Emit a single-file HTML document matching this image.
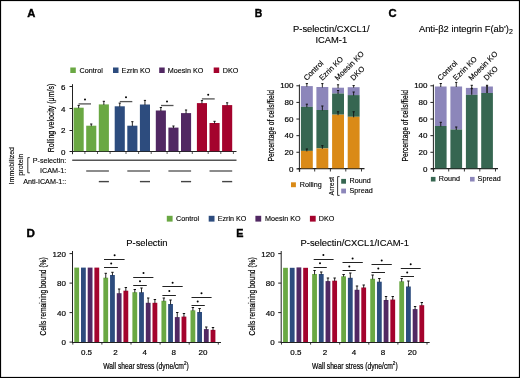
<!DOCTYPE html>
<html><head><meta charset="utf-8"><style>
html,body{margin:0;padding:0;background:#fff;}
body{width:520px;height:378px;overflow:hidden;}
svg{display:block;font-family:"Liberation Sans", sans-serif;will-change:transform;}
text:not([stroke-width]){stroke:#000;stroke-width:0.12px;}
</style></head><body>
<svg width="520" height="378" viewBox="0 0 520 378">
<rect x="0" y="0" width="520" height="378" fill="#fff"/>
<text transform="translate(27.20,16.90) scale(1.08,1)" font-size="10.4" font-weight="bold" stroke="#000" stroke-width="0.35">A</text>
<text transform="translate(254.80,16.90) scale(1.0,1)" font-size="10.4" font-weight="bold" stroke="#000" stroke-width="0.35">B</text>
<text transform="translate(388.40,17.00) scale(1.08,1)" font-size="10.4" font-weight="bold" stroke="#000" stroke-width="0.35">C</text>
<text transform="translate(26.60,237.00) scale(1.12,1)" font-size="10.4" font-weight="bold" stroke="#000" stroke-width="0.35">D</text>
<text transform="translate(236.30,236.90) scale(1.04,1)" font-size="10.4" font-weight="bold" stroke="#000" stroke-width="0.35">E</text>
<rect x="70.30" y="67.50" width="5.50" height="5.50" fill="#6aa843"/>
<text x="79.60" y="72.60" font-size="7.2" fill="#000">Control</text>
<rect x="113.00" y="67.50" width="5.50" height="5.50" fill="#2d4c7e"/>
<text x="121.60" y="72.60" font-size="7.2" fill="#000">Ezrin KO</text>
<rect x="159.20" y="67.50" width="5.50" height="5.50" fill="#512863"/>
<text x="167.80" y="72.60" font-size="7.2" fill="#000">Moesin KO</text>
<rect x="213.70" y="67.50" width="5.50" height="5.50" fill="#a4032d"/>
<text x="222.70" y="72.60" font-size="7.2" fill="#000">DKO</text>
<line x1="72.50" y1="84.20" x2="72.50" y2="154.20" stroke="#222" stroke-width="1"/>
<line x1="69.50" y1="151.50" x2="72.50" y2="151.50" stroke="#222" stroke-width="1"/>
<text x="65.50" y="154.80" font-size="8.0" text-anchor="end" fill="#000" stroke="#000" stroke-width="0.18">0</text>
<line x1="69.50" y1="130.50" x2="72.50" y2="130.50" stroke="#222" stroke-width="1"/>
<text x="65.50" y="133.20" font-size="8.0" text-anchor="end" fill="#000" stroke="#000" stroke-width="0.18">2</text>
<line x1="69.50" y1="108.50" x2="72.50" y2="108.50" stroke="#222" stroke-width="1"/>
<text x="65.50" y="111.60" font-size="8.0" text-anchor="end" fill="#000" stroke="#000" stroke-width="0.18">4</text>
<line x1="69.50" y1="86.50" x2="72.50" y2="86.50" stroke="#222" stroke-width="1"/>
<text x="65.50" y="90.00" font-size="8.0" text-anchor="end" fill="#000" stroke="#000" stroke-width="0.18">6</text>
<line x1="72.00" y1="151.50" x2="236.50" y2="151.50" stroke="#222" stroke-width="1"/>
<text x="0.00" y="0.00" font-size="8.2" text-anchor="middle" textLength="68.40" lengthAdjust="spacingAndGlyphs" transform="translate(54.40,118.00) rotate(-90)" fill="#000" stroke="#000" stroke-width="0.2">Rolling velocity (μm/s)</text>
<rect x="73.60" y="107.70" width="10.10" height="43.50" fill="#6aa843"/>
<line x1="78.65" y1="105.40" x2="78.65" y2="108.20" stroke="#111" stroke-width="0.9"/>
<line x1="77.55" y1="105.40" x2="79.75" y2="105.40" stroke="#111" stroke-width="1"/>
<rect x="86.20" y="125.70" width="10.10" height="25.50" fill="#6aa843"/>
<line x1="91.25" y1="124.00" x2="91.25" y2="126.20" stroke="#111" stroke-width="0.9"/>
<line x1="90.15" y1="124.00" x2="92.35" y2="124.00" stroke="#111" stroke-width="1"/>
<rect x="98.80" y="104.40" width="10.10" height="46.80" fill="#6aa843"/>
<line x1="103.85" y1="101.30" x2="103.85" y2="104.90" stroke="#111" stroke-width="0.9"/>
<line x1="102.75" y1="101.30" x2="104.95" y2="101.30" stroke="#111" stroke-width="1"/>
<rect x="114.70" y="106.30" width="10.10" height="44.90" fill="#2d4c7e"/>
<line x1="119.75" y1="103.10" x2="119.75" y2="106.80" stroke="#111" stroke-width="0.9"/>
<line x1="118.65" y1="103.10" x2="120.85" y2="103.10" stroke="#111" stroke-width="1"/>
<rect x="127.30" y="125.70" width="10.10" height="25.50" fill="#2d4c7e"/>
<line x1="132.35" y1="121.70" x2="132.35" y2="126.20" stroke="#111" stroke-width="0.9"/>
<line x1="131.25" y1="121.70" x2="133.45" y2="121.70" stroke="#111" stroke-width="1"/>
<rect x="139.90" y="104.50" width="10.10" height="46.70" fill="#2d4c7e"/>
<line x1="144.95" y1="100.40" x2="144.95" y2="105.00" stroke="#111" stroke-width="0.9"/>
<line x1="143.85" y1="100.40" x2="146.05" y2="100.40" stroke="#111" stroke-width="1"/>
<rect x="155.80" y="110.50" width="10.10" height="40.70" fill="#512863"/>
<line x1="160.85" y1="107.50" x2="160.85" y2="111.00" stroke="#111" stroke-width="0.9"/>
<line x1="159.75" y1="107.50" x2="161.95" y2="107.50" stroke="#111" stroke-width="1"/>
<rect x="168.40" y="127.60" width="10.10" height="23.60" fill="#512863"/>
<line x1="173.45" y1="126.00" x2="173.45" y2="128.10" stroke="#111" stroke-width="0.9"/>
<line x1="172.35" y1="126.00" x2="174.55" y2="126.00" stroke="#111" stroke-width="1"/>
<rect x="181.00" y="113.10" width="10.10" height="38.10" fill="#512863"/>
<line x1="186.05" y1="110.00" x2="186.05" y2="113.60" stroke="#111" stroke-width="0.9"/>
<line x1="184.95" y1="110.00" x2="187.15" y2="110.00" stroke="#111" stroke-width="1"/>
<rect x="196.90" y="103.10" width="10.10" height="48.10" fill="#a4032d"/>
<line x1="201.95" y1="100.60" x2="201.95" y2="103.60" stroke="#111" stroke-width="0.9"/>
<line x1="200.85" y1="100.60" x2="203.05" y2="100.60" stroke="#111" stroke-width="1"/>
<rect x="209.50" y="123.00" width="10.10" height="28.20" fill="#a4032d"/>
<line x1="214.55" y1="121.30" x2="214.55" y2="123.50" stroke="#111" stroke-width="0.9"/>
<line x1="213.45" y1="121.30" x2="215.65" y2="121.30" stroke="#111" stroke-width="1"/>
<rect x="222.10" y="105.10" width="10.10" height="46.10" fill="#a4032d"/>
<line x1="227.15" y1="102.80" x2="227.15" y2="105.60" stroke="#111" stroke-width="0.9"/>
<line x1="226.05" y1="102.80" x2="228.25" y2="102.80" stroke="#111" stroke-width="1"/>
<line x1="84.90" y1="151.50" x2="84.90" y2="154.00" stroke="#333" stroke-width="0.8"/>
<line x1="97.50" y1="151.50" x2="97.50" y2="154.00" stroke="#333" stroke-width="0.8"/>
<line x1="110.10" y1="151.50" x2="110.10" y2="154.00" stroke="#333" stroke-width="0.8"/>
<line x1="126.00" y1="151.50" x2="126.00" y2="154.00" stroke="#333" stroke-width="0.8"/>
<line x1="138.60" y1="151.50" x2="138.60" y2="154.00" stroke="#333" stroke-width="0.8"/>
<line x1="151.20" y1="151.50" x2="151.20" y2="154.00" stroke="#333" stroke-width="0.8"/>
<line x1="167.10" y1="151.50" x2="167.10" y2="154.00" stroke="#333" stroke-width="0.8"/>
<line x1="179.70" y1="151.50" x2="179.70" y2="154.00" stroke="#333" stroke-width="0.8"/>
<line x1="192.30" y1="151.50" x2="192.30" y2="154.00" stroke="#333" stroke-width="0.8"/>
<line x1="208.20" y1="151.50" x2="208.20" y2="154.00" stroke="#333" stroke-width="0.8"/>
<line x1="220.80" y1="151.50" x2="220.80" y2="154.00" stroke="#333" stroke-width="0.8"/>
<line x1="233.40" y1="151.50" x2="233.40" y2="154.00" stroke="#333" stroke-width="0.8"/>
<line x1="78.60" y1="103.90" x2="91.00" y2="103.90" stroke="#555" stroke-width="1.3"/>
<circle cx="85.00" cy="99.40" r="1.0" fill="#000"/>
<line x1="119.80" y1="101.60" x2="132.30" y2="101.60" stroke="#555" stroke-width="1.3"/>
<circle cx="126.00" cy="97.30" r="1.0" fill="#000"/>
<line x1="161.00" y1="105.50" x2="173.50" y2="105.50" stroke="#555" stroke-width="1.3"/>
<circle cx="167.00" cy="101.50" r="1.0" fill="#000"/>
<line x1="201.90" y1="98.90" x2="214.70" y2="98.90" stroke="#555" stroke-width="1.3"/>
<circle cx="208.20" cy="94.70" r="1.0" fill="#000"/>
<text x="0.00" y="0.00" font-size="7.6" text-anchor="middle" textLength="37.40" lengthAdjust="spacingAndGlyphs" transform="translate(14.00,165.70) rotate(-90)" fill="#000">Immobilized</text>
<text x="0.00" y="0.00" font-size="7.6" text-anchor="middle" textLength="22.10" lengthAdjust="spacingAndGlyphs" transform="translate(22.50,164.70) rotate(-90)" fill="#000">protein</text>
<path d="M29.8,157.6 H27.8 V172.8 H29.8" fill="none" stroke="#222" stroke-width="0.9"/>
<text x="66.30" y="162.80" font-size="7.2" text-anchor="end" fill="#000">P-selectin:</text>
<text x="66.30" y="173.00" font-size="7.2" text-anchor="end" fill="#000">ICAM-1:</text>
<text x="66.30" y="184.10" font-size="7.2" text-anchor="end" fill="#000">Anti-ICAM-1::</text>
<line x1="72.20" y1="160.30" x2="236.50" y2="160.30" stroke="#555" stroke-width="1.4"/>
<line x1="86.20" y1="171.00" x2="108.90" y2="171.00" stroke="#666" stroke-width="1.5"/>
<line x1="98.80" y1="181.60" x2="108.90" y2="181.60" stroke="#444" stroke-width="1.4"/>
<line x1="127.30" y1="171.00" x2="150.00" y2="171.00" stroke="#666" stroke-width="1.5"/>
<line x1="139.90" y1="181.60" x2="150.00" y2="181.60" stroke="#444" stroke-width="1.4"/>
<line x1="168.40" y1="171.00" x2="191.10" y2="171.00" stroke="#666" stroke-width="1.5"/>
<line x1="181.00" y1="181.60" x2="191.10" y2="181.60" stroke="#444" stroke-width="1.4"/>
<line x1="209.50" y1="171.00" x2="232.20" y2="171.00" stroke="#666" stroke-width="1.5"/>
<line x1="222.10" y1="181.60" x2="232.20" y2="181.60" stroke="#444" stroke-width="1.4"/>
<line x1="299.40" y1="84.50" x2="299.40" y2="171.90" stroke="#222" stroke-width="1"/>
<line x1="296.40" y1="168.90" x2="299.40" y2="168.90" stroke="#222" stroke-width="1"/>
<text x="293.50" y="171.50" font-size="8.0" text-anchor="end" fill="#000" stroke="#000" stroke-width="0.18">0</text>
<line x1="296.40" y1="152.28" x2="299.40" y2="152.28" stroke="#222" stroke-width="1"/>
<text x="293.50" y="154.88" font-size="8.0" text-anchor="end" fill="#000" stroke="#000" stroke-width="0.18">20</text>
<line x1="296.40" y1="135.66" x2="299.40" y2="135.66" stroke="#222" stroke-width="1"/>
<text x="293.50" y="138.26" font-size="8.0" text-anchor="end" fill="#000" stroke="#000" stroke-width="0.18">40</text>
<line x1="296.40" y1="119.04" x2="299.40" y2="119.04" stroke="#222" stroke-width="1"/>
<text x="293.50" y="121.64" font-size="8.0" text-anchor="end" fill="#000" stroke="#000" stroke-width="0.18">60</text>
<line x1="296.40" y1="102.42" x2="299.40" y2="102.42" stroke="#222" stroke-width="1"/>
<text x="293.50" y="105.02" font-size="8.0" text-anchor="end" fill="#000" stroke="#000" stroke-width="0.18">80</text>
<line x1="296.40" y1="85.80" x2="299.40" y2="85.80" stroke="#222" stroke-width="1"/>
<text x="293.50" y="88.40" font-size="8.0" text-anchor="end" fill="#000" stroke="#000" stroke-width="0.18">100</text>
<line x1="297.50" y1="168.60" x2="364.50" y2="168.60" stroke="#222" stroke-width="1.1"/>
<line x1="299.70" y1="168.60" x2="299.70" y2="171.50" stroke="#222" stroke-width="0.9"/>
<line x1="314.70" y1="168.60" x2="314.70" y2="171.50" stroke="#222" stroke-width="0.9"/>
<line x1="330.40" y1="168.60" x2="330.40" y2="171.50" stroke="#222" stroke-width="0.9"/>
<line x1="345.80" y1="168.60" x2="345.80" y2="171.50" stroke="#222" stroke-width="0.9"/>
<line x1="361.50" y1="168.60" x2="361.50" y2="171.50" stroke="#222" stroke-width="0.9"/>
<text x="0.00" y="0.00" font-size="9.2" text-anchor="middle" textLength="71.40" lengthAdjust="spacingAndGlyphs" transform="translate(273.90,125.80) rotate(-90)" fill="#000" stroke="#000" stroke-width="0.2">Percentage of cells/field</text>
<text x="331.30" y="31.80" font-size="9.4" text-anchor="middle" fill="#000">P-selectin/CXCL1/</text>
<text x="331.30" y="43.40" font-size="9.4" text-anchor="middle" fill="#000">ICAM-1</text>
<rect x="300.90" y="86.10" width="11.90" height="20.70" fill="#8c86ba"/>
<rect x="300.90" y="106.80" width="11.90" height="44.10" fill="#366651"/>
<rect x="300.90" y="150.90" width="11.90" height="17.40" fill="#da8a17"/>
<rect x="316.40" y="87.00" width="11.90" height="23.00" fill="#8c86ba"/>
<rect x="316.40" y="110.00" width="11.90" height="38.40" fill="#366651"/>
<rect x="316.40" y="148.40" width="11.90" height="19.90" fill="#da8a17"/>
<rect x="332.10" y="87.70" width="11.90" height="5.80" fill="#8c86ba"/>
<rect x="332.10" y="93.50" width="11.90" height="21.20" fill="#366651"/>
<rect x="332.10" y="114.70" width="11.90" height="53.60" fill="#da8a17"/>
<rect x="347.70" y="87.20" width="11.90" height="7.90" fill="#8c86ba"/>
<rect x="347.70" y="95.10" width="11.90" height="21.70" fill="#366651"/>
<rect x="347.70" y="116.80" width="11.90" height="51.50" fill="#da8a17"/>
<line x1="306.85" y1="83.60" x2="306.85" y2="86.60" stroke="#111" stroke-width="0.9"/>
<line x1="305.75" y1="83.60" x2="307.95" y2="83.60" stroke="#111" stroke-width="1"/>
<line x1="306.85" y1="104.20" x2="306.85" y2="107.30" stroke="#111" stroke-width="0.9"/>
<line x1="305.75" y1="104.20" x2="307.95" y2="104.20" stroke="#111" stroke-width="1"/>
<line x1="306.85" y1="149.00" x2="306.85" y2="151.40" stroke="#111" stroke-width="0.9"/>
<line x1="305.75" y1="149.00" x2="307.95" y2="149.00" stroke="#111" stroke-width="1"/>
<line x1="322.35" y1="83.60" x2="322.35" y2="87.50" stroke="#111" stroke-width="0.9"/>
<line x1="321.25" y1="83.60" x2="323.45" y2="83.60" stroke="#111" stroke-width="1"/>
<line x1="322.35" y1="106.00" x2="322.35" y2="110.50" stroke="#111" stroke-width="0.9"/>
<line x1="321.25" y1="106.00" x2="323.45" y2="106.00" stroke="#111" stroke-width="1"/>
<line x1="322.35" y1="145.70" x2="322.35" y2="148.90" stroke="#111" stroke-width="0.9"/>
<line x1="321.25" y1="145.70" x2="323.45" y2="145.70" stroke="#111" stroke-width="1"/>
<line x1="338.05" y1="84.80" x2="338.05" y2="88.20" stroke="#111" stroke-width="0.9"/>
<line x1="336.95" y1="84.80" x2="339.15" y2="84.80" stroke="#111" stroke-width="1"/>
<line x1="338.05" y1="90.50" x2="338.05" y2="94.00" stroke="#111" stroke-width="0.9"/>
<line x1="336.95" y1="90.50" x2="339.15" y2="90.50" stroke="#111" stroke-width="1"/>
<line x1="338.05" y1="111.80" x2="338.05" y2="115.20" stroke="#111" stroke-width="0.9"/>
<line x1="336.95" y1="111.80" x2="339.15" y2="111.80" stroke="#111" stroke-width="1"/>
<line x1="353.65" y1="85.60" x2="353.65" y2="87.70" stroke="#111" stroke-width="0.9"/>
<line x1="352.55" y1="85.60" x2="354.75" y2="85.60" stroke="#111" stroke-width="1"/>
<line x1="353.65" y1="92.00" x2="353.65" y2="95.60" stroke="#111" stroke-width="0.9"/>
<line x1="352.55" y1="92.00" x2="354.75" y2="92.00" stroke="#111" stroke-width="1"/>
<line x1="353.65" y1="111.80" x2="353.65" y2="117.30" stroke="#111" stroke-width="0.9"/>
<line x1="352.55" y1="111.80" x2="354.75" y2="111.80" stroke="#111" stroke-width="1"/>
<text x="0.00" y="0.00" font-size="7.6" transform="translate(306.65,81.0) rotate(-45)" fill="#000">Control</text>
<text x="0.00" y="0.00" font-size="7.6" transform="translate(322.15,81.0) rotate(-45)" fill="#000">Ezrin KO</text>
<text x="0.00" y="0.00" font-size="7.6" transform="translate(337.85,81.0) rotate(-45)" fill="#000">Moesin KO</text>
<text x="0.00" y="0.00" font-size="7.6" transform="translate(353.45,81.0) rotate(-45)" fill="#000">DKO</text>
<rect x="291.00" y="182.30" width="4.90" height="4.90" fill="#da8a17"/>
<text x="299.70" y="186.90" font-size="7.2" fill="#000">Rolling</text>
<text x="0.00" y="0.00" font-size="7.6" text-anchor="middle" textLength="18.40" lengthAdjust="spacingAndGlyphs" transform="translate(334.40,186.20) rotate(-90)" fill="#000">Arrest</text>
<path d="M339.6,176.6 H337.6 V195.4 H339.6" fill="none" stroke="#222" stroke-width="0.9"/>
<rect x="341.20" y="178.90" width="4.80" height="4.80" fill="#366651"/>
<text x="349.50" y="183.00" font-size="7.2" fill="#000">Round</text>
<rect x="341.20" y="188.60" width="4.80" height="4.80" fill="#8c86ba"/>
<text x="349.50" y="192.60" font-size="7.2" fill="#000">Spread</text>
<line x1="433.40" y1="84.50" x2="433.40" y2="171.90" stroke="#222" stroke-width="1"/>
<line x1="430.40" y1="168.90" x2="433.40" y2="168.90" stroke="#222" stroke-width="1"/>
<text x="427.50" y="171.50" font-size="8.0" text-anchor="end" fill="#000" stroke="#000" stroke-width="0.18">0</text>
<line x1="430.40" y1="152.28" x2="433.40" y2="152.28" stroke="#222" stroke-width="1"/>
<text x="427.50" y="154.88" font-size="8.0" text-anchor="end" fill="#000" stroke="#000" stroke-width="0.18">20</text>
<line x1="430.40" y1="135.66" x2="433.40" y2="135.66" stroke="#222" stroke-width="1"/>
<text x="427.50" y="138.26" font-size="8.0" text-anchor="end" fill="#000" stroke="#000" stroke-width="0.18">40</text>
<line x1="430.40" y1="119.04" x2="433.40" y2="119.04" stroke="#222" stroke-width="1"/>
<text x="427.50" y="121.64" font-size="8.0" text-anchor="end" fill="#000" stroke="#000" stroke-width="0.18">60</text>
<line x1="430.40" y1="102.42" x2="433.40" y2="102.42" stroke="#222" stroke-width="1"/>
<text x="427.50" y="105.02" font-size="8.0" text-anchor="end" fill="#000" stroke="#000" stroke-width="0.18">80</text>
<line x1="430.40" y1="85.80" x2="433.40" y2="85.80" stroke="#222" stroke-width="1"/>
<text x="427.50" y="88.40" font-size="8.0" text-anchor="end" fill="#000" stroke="#000" stroke-width="0.18">100</text>
<line x1="431.00" y1="168.60" x2="498.00" y2="168.60" stroke="#222" stroke-width="1.1"/>
<line x1="433.70" y1="168.60" x2="433.70" y2="171.50" stroke="#222" stroke-width="0.9"/>
<line x1="448.70" y1="168.60" x2="448.70" y2="171.50" stroke="#222" stroke-width="0.9"/>
<line x1="464.40" y1="168.60" x2="464.40" y2="171.50" stroke="#222" stroke-width="0.9"/>
<line x1="479.80" y1="168.60" x2="479.80" y2="171.50" stroke="#222" stroke-width="0.9"/>
<line x1="495.50" y1="168.60" x2="495.50" y2="171.50" stroke="#222" stroke-width="0.9"/>
<text x="0.00" y="0.00" font-size="9.2" text-anchor="middle" textLength="71.40" lengthAdjust="spacingAndGlyphs" transform="translate(407.90,125.80) rotate(-90)" fill="#000" stroke="#000" stroke-width="0.2">Percentage of cells/field</text>
<text x="418.9" y="31.6" font-size="9.4">Anti-β2 integrin F(ab&#39;)<tspan font-size="7" dy="2.8">2</tspan></text>
<rect x="434.90" y="86.50" width="11.70" height="39.50" fill="#8c86ba"/>
<rect x="434.90" y="126.00" width="11.70" height="42.30" fill="#366651"/>
<rect x="450.40" y="86.50" width="11.70" height="43.00" fill="#8c86ba"/>
<rect x="450.40" y="129.50" width="11.70" height="38.80" fill="#366651"/>
<rect x="465.90" y="87.90" width="11.70" height="6.90" fill="#8c86ba"/>
<rect x="465.90" y="94.80" width="11.70" height="73.50" fill="#366651"/>
<rect x="481.20" y="86.50" width="11.70" height="6.50" fill="#8c86ba"/>
<rect x="481.20" y="93.00" width="11.70" height="75.30" fill="#366651"/>
<line x1="440.75" y1="83.50" x2="440.75" y2="87.00" stroke="#111" stroke-width="0.9"/>
<line x1="439.65" y1="83.50" x2="441.85" y2="83.50" stroke="#111" stroke-width="1"/>
<line x1="440.75" y1="122.30" x2="440.75" y2="126.50" stroke="#111" stroke-width="0.9"/>
<line x1="439.65" y1="122.30" x2="441.85" y2="122.30" stroke="#111" stroke-width="1"/>
<line x1="456.25" y1="82.40" x2="456.25" y2="87.00" stroke="#111" stroke-width="0.9"/>
<line x1="455.15" y1="82.40" x2="457.35" y2="82.40" stroke="#111" stroke-width="1"/>
<line x1="456.25" y1="127.00" x2="456.25" y2="130.00" stroke="#111" stroke-width="0.9"/>
<line x1="455.15" y1="127.00" x2="457.35" y2="127.00" stroke="#111" stroke-width="1"/>
<line x1="471.75" y1="85.30" x2="471.75" y2="88.40" stroke="#111" stroke-width="0.9"/>
<line x1="470.65" y1="85.30" x2="472.85" y2="85.30" stroke="#111" stroke-width="1"/>
<line x1="487.05" y1="85.30" x2="487.05" y2="87.00" stroke="#111" stroke-width="0.9"/>
<line x1="485.95" y1="85.30" x2="488.15" y2="85.30" stroke="#111" stroke-width="1"/>
<line x1="471.75" y1="87.50" x2="471.75" y2="94.80" stroke="#111" stroke-width="1.0"/>
<line x1="470.65" y1="88.70" x2="472.85" y2="88.70" stroke="#111" stroke-width="1.0"/>
<line x1="487.05" y1="85.50" x2="487.05" y2="93.00" stroke="#222" stroke-width="1.6"/>
<text x="0.00" y="0.00" font-size="7.6" transform="translate(440.55,81.0) rotate(-45)" fill="#000">Control</text>
<text x="0.00" y="0.00" font-size="7.6" transform="translate(456.05,81.0) rotate(-45)" fill="#000">Ezrin KO</text>
<text x="0.00" y="0.00" font-size="7.6" transform="translate(471.55,81.0) rotate(-45)" fill="#000">Moesin KO</text>
<text x="0.00" y="0.00" font-size="7.6" transform="translate(486.85,81.0) rotate(-45)" fill="#000">DKO</text>
<rect x="430.90" y="176.90" width="4.60" height="4.60" fill="#366651"/>
<text x="438.80" y="180.90" font-size="7.2" fill="#000">Round</text>
<rect x="470.00" y="176.90" width="4.60" height="4.60" fill="#8c86ba"/>
<text x="477.60" y="180.90" font-size="7.2" fill="#000">Spread</text>
<rect x="166.80" y="215.80" width="5.80" height="5.80" fill="#6aa843"/>
<text x="176.00" y="221.40" font-size="7.2" fill="#000">Control</text>
<rect x="208.70" y="215.80" width="5.80" height="5.80" fill="#2d4c7e"/>
<text x="217.70" y="221.40" font-size="7.2" fill="#000">Ezrin KO</text>
<rect x="255.40" y="215.80" width="5.80" height="5.80" fill="#512863"/>
<text x="265.00" y="221.40" font-size="7.2" fill="#000">Moesin KO</text>
<rect x="309.90" y="215.80" width="5.80" height="5.80" fill="#a4032d"/>
<text x="318.80" y="221.40" font-size="7.2" fill="#000">DKO</text>
<line x1="72.50" y1="251.00" x2="72.50" y2="343.00" stroke="#222" stroke-width="1"/>
<line x1="69.50" y1="342.10" x2="72.50" y2="342.10" stroke="#222" stroke-width="1"/>
<text x="65.90" y="345.00" font-size="8.0" text-anchor="end" fill="#000" stroke="#000" stroke-width="0.18">0</text>
<line x1="69.50" y1="312.60" x2="72.50" y2="312.60" stroke="#222" stroke-width="1"/>
<text x="65.90" y="315.50" font-size="8.0" text-anchor="end" fill="#000" stroke="#000" stroke-width="0.18">40</text>
<line x1="69.50" y1="283.10" x2="72.50" y2="283.10" stroke="#222" stroke-width="1"/>
<text x="65.90" y="286.00" font-size="8.0" text-anchor="end" fill="#000" stroke="#000" stroke-width="0.18">80</text>
<line x1="69.50" y1="253.60" x2="72.50" y2="253.60" stroke="#222" stroke-width="1"/>
<text x="65.90" y="256.50" font-size="8.0" text-anchor="end" fill="#000" stroke="#000" stroke-width="0.18">120</text>
<line x1="72.00" y1="342.50" x2="221.00" y2="342.50" stroke="#222" stroke-width="1"/>
<line x1="72.80" y1="342.50" x2="72.80" y2="344.60" stroke="#222" stroke-width="0.9"/>
<line x1="101.90" y1="342.50" x2="101.90" y2="344.60" stroke="#222" stroke-width="0.9"/>
<line x1="131.00" y1="342.50" x2="131.00" y2="344.60" stroke="#222" stroke-width="0.9"/>
<line x1="160.10" y1="342.50" x2="160.10" y2="344.60" stroke="#222" stroke-width="0.9"/>
<line x1="189.20" y1="342.50" x2="189.20" y2="344.60" stroke="#222" stroke-width="0.9"/>
<line x1="218.30" y1="342.50" x2="218.30" y2="344.60" stroke="#222" stroke-width="0.9"/>
<rect x="74.30" y="267.60" width="4.80" height="74.40" fill="#6aa843"/>
<rect x="81.00" y="267.60" width="4.80" height="74.40" fill="#2d4c7e"/>
<rect x="87.70" y="267.60" width="4.80" height="74.40" fill="#512863"/>
<rect x="94.40" y="267.60" width="4.80" height="74.40" fill="#a4032d"/>
<rect x="103.35" y="277.70" width="4.80" height="64.30" fill="#6aa843"/>
<line x1="105.75" y1="273.30" x2="105.75" y2="278.20" stroke="#111" stroke-width="0.9"/>
<line x1="104.55" y1="273.30" x2="106.95" y2="273.30" stroke="#111" stroke-width="1"/>
<rect x="110.05" y="275.00" width="4.80" height="67.00" fill="#2d4c7e"/>
<line x1="112.45" y1="272.30" x2="112.45" y2="275.50" stroke="#111" stroke-width="0.9"/>
<line x1="111.25" y1="272.30" x2="113.65" y2="272.30" stroke="#111" stroke-width="1"/>
<rect x="116.75" y="293.20" width="4.80" height="48.80" fill="#512863"/>
<line x1="119.15" y1="289.00" x2="119.15" y2="293.70" stroke="#111" stroke-width="0.9"/>
<line x1="117.95" y1="289.00" x2="120.35" y2="289.00" stroke="#111" stroke-width="1"/>
<rect x="123.45" y="290.70" width="4.80" height="51.30" fill="#a4032d"/>
<line x1="125.85" y1="287.50" x2="125.85" y2="291.20" stroke="#111" stroke-width="0.9"/>
<line x1="124.65" y1="287.50" x2="127.05" y2="287.50" stroke="#111" stroke-width="1"/>
<rect x="132.40" y="292.20" width="4.80" height="49.80" fill="#6aa843"/>
<line x1="134.80" y1="289.50" x2="134.80" y2="292.70" stroke="#111" stroke-width="0.9"/>
<line x1="133.60" y1="289.50" x2="136.00" y2="289.50" stroke="#111" stroke-width="1"/>
<rect x="139.10" y="292.20" width="4.80" height="49.80" fill="#2d4c7e"/>
<line x1="141.50" y1="288.00" x2="141.50" y2="292.70" stroke="#111" stroke-width="0.9"/>
<line x1="140.30" y1="288.00" x2="142.70" y2="288.00" stroke="#111" stroke-width="1"/>
<rect x="145.80" y="302.80" width="4.80" height="39.20" fill="#512863"/>
<line x1="148.20" y1="298.00" x2="148.20" y2="303.30" stroke="#111" stroke-width="0.9"/>
<line x1="147.00" y1="298.00" x2="149.40" y2="298.00" stroke="#111" stroke-width="1"/>
<rect x="152.50" y="302.80" width="4.80" height="39.20" fill="#a4032d"/>
<line x1="154.90" y1="299.50" x2="154.90" y2="303.30" stroke="#111" stroke-width="0.9"/>
<line x1="153.70" y1="299.50" x2="156.10" y2="299.50" stroke="#111" stroke-width="1"/>
<rect x="161.45" y="300.80" width="4.80" height="41.20" fill="#6aa843"/>
<line x1="163.85" y1="298.00" x2="163.85" y2="301.30" stroke="#111" stroke-width="0.9"/>
<line x1="162.65" y1="298.00" x2="165.05" y2="298.00" stroke="#111" stroke-width="1"/>
<rect x="168.15" y="304.00" width="4.80" height="38.00" fill="#2d4c7e"/>
<line x1="170.55" y1="300.00" x2="170.55" y2="304.50" stroke="#111" stroke-width="0.9"/>
<line x1="169.35" y1="300.00" x2="171.75" y2="300.00" stroke="#111" stroke-width="1"/>
<rect x="174.85" y="317.10" width="4.80" height="24.90" fill="#512863"/>
<line x1="177.25" y1="312.50" x2="177.25" y2="317.60" stroke="#111" stroke-width="0.9"/>
<line x1="176.05" y1="312.50" x2="178.45" y2="312.50" stroke="#111" stroke-width="1"/>
<rect x="181.55" y="316.60" width="4.80" height="25.40" fill="#a4032d"/>
<line x1="183.95" y1="313.50" x2="183.95" y2="317.10" stroke="#111" stroke-width="0.9"/>
<line x1="182.75" y1="313.50" x2="185.15" y2="313.50" stroke="#111" stroke-width="1"/>
<rect x="190.50" y="310.30" width="4.80" height="31.70" fill="#6aa843"/>
<line x1="192.90" y1="307.50" x2="192.90" y2="310.80" stroke="#111" stroke-width="0.9"/>
<line x1="191.70" y1="307.50" x2="194.10" y2="307.50" stroke="#111" stroke-width="1"/>
<rect x="197.20" y="312.00" width="4.80" height="30.00" fill="#2d4c7e"/>
<line x1="199.60" y1="308.50" x2="199.60" y2="312.50" stroke="#111" stroke-width="0.9"/>
<line x1="198.40" y1="308.50" x2="200.80" y2="308.50" stroke="#111" stroke-width="1"/>
<rect x="203.90" y="329.10" width="4.80" height="12.90" fill="#512863"/>
<line x1="206.30" y1="327.00" x2="206.30" y2="329.60" stroke="#111" stroke-width="0.9"/>
<line x1="205.10" y1="327.00" x2="207.50" y2="327.00" stroke="#111" stroke-width="1"/>
<rect x="210.60" y="329.90" width="4.80" height="12.10" fill="#a4032d"/>
<line x1="213.00" y1="327.50" x2="213.00" y2="330.40" stroke="#111" stroke-width="0.9"/>
<line x1="211.80" y1="327.50" x2="214.20" y2="327.50" stroke="#111" stroke-width="1"/>
<line x1="104.00" y1="259.50" x2="124.60" y2="259.50" stroke="#222" stroke-width="1"/>
<circle cx="114.60" cy="255.30" r="1.0" fill="#000"/>
<line x1="104.00" y1="267.50" x2="117.90" y2="267.50" stroke="#222" stroke-width="1"/>
<circle cx="111.20" cy="263.40" r="1.0" fill="#000"/>
<line x1="133.20" y1="277.50" x2="153.40" y2="277.50" stroke="#222" stroke-width="1"/>
<circle cx="143.50" cy="273.00" r="1.0" fill="#000"/>
<line x1="133.20" y1="285.50" x2="146.80" y2="285.50" stroke="#222" stroke-width="1"/>
<circle cx="140.00" cy="281.20" r="1.0" fill="#000"/>
<line x1="162.40" y1="286.50" x2="182.70" y2="286.50" stroke="#222" stroke-width="1"/>
<circle cx="172.60" cy="282.70" r="1.0" fill="#000"/>
<line x1="162.40" y1="295.50" x2="175.90" y2="295.50" stroke="#222" stroke-width="1"/>
<circle cx="169.30" cy="290.90" r="1.0" fill="#000"/>
<line x1="191.50" y1="297.50" x2="211.60" y2="297.50" stroke="#222" stroke-width="1"/>
<circle cx="201.50" cy="293.20" r="1.0" fill="#000"/>
<line x1="191.50" y1="305.50" x2="204.80" y2="305.50" stroke="#222" stroke-width="1"/>
<circle cx="197.70" cy="301.40" r="1.0" fill="#000"/>
<text x="86.50" y="355.30" font-size="8.0" text-anchor="middle" fill="#000" stroke="#000" stroke-width="0.18">0.5</text>
<text x="115.60" y="355.30" font-size="8.0" text-anchor="middle" fill="#000" stroke="#000" stroke-width="0.18">2</text>
<text x="144.70" y="355.30" font-size="8.0" text-anchor="middle" fill="#000" stroke="#000" stroke-width="0.18">4</text>
<text x="173.80" y="355.30" font-size="8.0" text-anchor="middle" fill="#000" stroke="#000" stroke-width="0.18">8</text>
<text x="202.90" y="355.30" font-size="8.0" text-anchor="middle" fill="#000" stroke="#000" stroke-width="0.18">20</text>
<text transform="translate(103.20,368.8) scale(0.81,1)" font-size="8.3" stroke="#000" stroke-width="0.2">Wall shear stress (dyne/cm<tspan font-size="5.6" dy="-3.4">2</tspan><tspan dy="3.4">)</tspan></text>
<text x="0.00" y="0.00" font-size="8.6" text-anchor="middle" textLength="78.20" lengthAdjust="spacingAndGlyphs" transform="translate(46.20,296.40) rotate(-90)" fill="#000" stroke="#000" stroke-width="0.2">Cells remaining bound (%)</text>
<text x="126.30" y="246.00" font-size="9.4" fill="#000">P-selectin</text>
<line x1="281.20" y1="251.00" x2="281.20" y2="343.00" stroke="#222" stroke-width="1"/>
<line x1="278.20" y1="342.10" x2="281.20" y2="342.10" stroke="#222" stroke-width="1"/>
<text x="274.60" y="345.00" font-size="8.0" text-anchor="end" fill="#000" stroke="#000" stroke-width="0.18">0</text>
<line x1="278.20" y1="312.60" x2="281.20" y2="312.60" stroke="#222" stroke-width="1"/>
<text x="274.60" y="315.50" font-size="8.0" text-anchor="end" fill="#000" stroke="#000" stroke-width="0.18">40</text>
<line x1="278.20" y1="283.10" x2="281.20" y2="283.10" stroke="#222" stroke-width="1"/>
<text x="274.60" y="286.00" font-size="8.0" text-anchor="end" fill="#000" stroke="#000" stroke-width="0.18">80</text>
<line x1="278.20" y1="253.60" x2="281.20" y2="253.60" stroke="#222" stroke-width="1"/>
<text x="274.60" y="256.50" font-size="8.0" text-anchor="end" fill="#000" stroke="#000" stroke-width="0.18">120</text>
<line x1="280.70" y1="342.50" x2="429.70" y2="342.50" stroke="#222" stroke-width="1"/>
<line x1="281.50" y1="342.50" x2="281.50" y2="344.60" stroke="#222" stroke-width="0.9"/>
<line x1="310.60" y1="342.50" x2="310.60" y2="344.60" stroke="#222" stroke-width="0.9"/>
<line x1="339.70" y1="342.50" x2="339.70" y2="344.60" stroke="#222" stroke-width="0.9"/>
<line x1="368.80" y1="342.50" x2="368.80" y2="344.60" stroke="#222" stroke-width="0.9"/>
<line x1="397.90" y1="342.50" x2="397.90" y2="344.60" stroke="#222" stroke-width="0.9"/>
<line x1="427.00" y1="342.50" x2="427.00" y2="344.60" stroke="#222" stroke-width="0.9"/>
<rect x="283.10" y="267.80" width="4.80" height="74.20" fill="#6aa843"/>
<rect x="289.80" y="267.80" width="4.80" height="74.20" fill="#2d4c7e"/>
<rect x="296.50" y="267.40" width="4.80" height="74.60" fill="#512863"/>
<rect x="303.20" y="267.80" width="4.80" height="74.20" fill="#a4032d"/>
<rect x="312.15" y="274.00" width="4.80" height="68.00" fill="#6aa843"/>
<line x1="314.55" y1="270.50" x2="314.55" y2="274.50" stroke="#111" stroke-width="0.9"/>
<line x1="313.35" y1="270.50" x2="315.75" y2="270.50" stroke="#111" stroke-width="1"/>
<rect x="318.85" y="274.00" width="4.80" height="68.00" fill="#2d4c7e"/>
<line x1="321.25" y1="272.00" x2="321.25" y2="274.50" stroke="#111" stroke-width="0.9"/>
<line x1="320.05" y1="272.00" x2="322.45" y2="272.00" stroke="#111" stroke-width="1"/>
<rect x="325.55" y="281.10" width="4.80" height="60.90" fill="#512863"/>
<line x1="327.95" y1="278.00" x2="327.95" y2="281.60" stroke="#111" stroke-width="0.9"/>
<line x1="326.75" y1="278.00" x2="329.15" y2="278.00" stroke="#111" stroke-width="1"/>
<rect x="332.25" y="280.70" width="4.80" height="61.30" fill="#a4032d"/>
<line x1="334.65" y1="278.00" x2="334.65" y2="281.20" stroke="#111" stroke-width="0.9"/>
<line x1="333.45" y1="278.00" x2="335.85" y2="278.00" stroke="#111" stroke-width="1"/>
<rect x="341.20" y="276.30" width="4.80" height="65.70" fill="#6aa843"/>
<line x1="343.60" y1="274.50" x2="343.60" y2="276.80" stroke="#111" stroke-width="0.9"/>
<line x1="342.40" y1="274.50" x2="344.80" y2="274.50" stroke="#111" stroke-width="1"/>
<rect x="347.90" y="277.80" width="4.80" height="64.20" fill="#2d4c7e"/>
<line x1="350.30" y1="273.00" x2="350.30" y2="278.30" stroke="#111" stroke-width="0.9"/>
<line x1="349.10" y1="273.00" x2="351.50" y2="273.00" stroke="#111" stroke-width="1"/>
<rect x="354.60" y="289.80" width="4.80" height="52.20" fill="#512863"/>
<line x1="357.00" y1="286.00" x2="357.00" y2="290.30" stroke="#111" stroke-width="0.9"/>
<line x1="355.80" y1="286.00" x2="358.20" y2="286.00" stroke="#111" stroke-width="1"/>
<rect x="361.30" y="287.50" width="4.80" height="54.50" fill="#a4032d"/>
<line x1="363.70" y1="285.00" x2="363.70" y2="288.00" stroke="#111" stroke-width="0.9"/>
<line x1="362.50" y1="285.00" x2="364.90" y2="285.00" stroke="#111" stroke-width="1"/>
<rect x="370.25" y="278.80" width="4.80" height="63.20" fill="#6aa843"/>
<line x1="372.65" y1="275.00" x2="372.65" y2="279.30" stroke="#111" stroke-width="0.9"/>
<line x1="371.45" y1="275.00" x2="373.85" y2="275.00" stroke="#111" stroke-width="1"/>
<rect x="376.95" y="281.70" width="4.80" height="60.30" fill="#2d4c7e"/>
<line x1="379.35" y1="278.50" x2="379.35" y2="282.20" stroke="#111" stroke-width="0.9"/>
<line x1="378.15" y1="278.50" x2="380.55" y2="278.50" stroke="#111" stroke-width="1"/>
<rect x="383.65" y="300.00" width="4.80" height="42.00" fill="#512863"/>
<line x1="386.05" y1="296.50" x2="386.05" y2="300.50" stroke="#111" stroke-width="0.9"/>
<line x1="384.85" y1="296.50" x2="387.25" y2="296.50" stroke="#111" stroke-width="1"/>
<rect x="390.35" y="299.60" width="4.80" height="42.40" fill="#a4032d"/>
<line x1="392.75" y1="296.50" x2="392.75" y2="300.10" stroke="#111" stroke-width="0.9"/>
<line x1="391.55" y1="296.50" x2="393.95" y2="296.50" stroke="#111" stroke-width="1"/>
<rect x="399.30" y="281.30" width="4.80" height="60.70" fill="#6aa843"/>
<line x1="401.70" y1="278.50" x2="401.70" y2="281.80" stroke="#111" stroke-width="0.9"/>
<line x1="400.50" y1="278.50" x2="402.90" y2="278.50" stroke="#111" stroke-width="1"/>
<rect x="406.00" y="286.50" width="4.80" height="55.50" fill="#2d4c7e"/>
<line x1="408.40" y1="281.00" x2="408.40" y2="287.00" stroke="#111" stroke-width="0.9"/>
<line x1="407.20" y1="281.00" x2="409.60" y2="281.00" stroke="#111" stroke-width="1"/>
<rect x="412.70" y="309.10" width="4.80" height="32.90" fill="#512863"/>
<line x1="415.10" y1="306.50" x2="415.10" y2="309.60" stroke="#111" stroke-width="0.9"/>
<line x1="413.90" y1="306.50" x2="416.30" y2="306.50" stroke="#111" stroke-width="1"/>
<rect x="419.40" y="305.20" width="4.80" height="36.80" fill="#a4032d"/>
<line x1="421.80" y1="302.50" x2="421.80" y2="305.70" stroke="#111" stroke-width="0.9"/>
<line x1="420.60" y1="302.50" x2="423.00" y2="302.50" stroke="#111" stroke-width="1"/>
<line x1="313.70" y1="259.50" x2="333.60" y2="259.50" stroke="#222" stroke-width="1"/>
<circle cx="323.40" cy="255.00" r="1.0" fill="#000"/>
<line x1="313.70" y1="267.50" x2="326.80" y2="267.50" stroke="#222" stroke-width="1"/>
<circle cx="320.00" cy="263.30" r="1.0" fill="#000"/>
<line x1="342.50" y1="262.50" x2="362.80" y2="262.50" stroke="#222" stroke-width="1"/>
<circle cx="352.60" cy="258.50" r="1.0" fill="#000"/>
<line x1="342.50" y1="270.50" x2="355.70" y2="270.50" stroke="#222" stroke-width="1"/>
<circle cx="349.30" cy="266.60" r="1.0" fill="#000"/>
<line x1="371.50" y1="264.50" x2="391.80" y2="264.50" stroke="#222" stroke-width="1"/>
<circle cx="381.70" cy="260.40" r="1.0" fill="#000"/>
<line x1="371.50" y1="272.50" x2="385.00" y2="272.50" stroke="#222" stroke-width="1"/>
<circle cx="378.30" cy="268.60" r="1.0" fill="#000"/>
<line x1="400.80" y1="268.50" x2="420.70" y2="268.50" stroke="#222" stroke-width="1"/>
<circle cx="410.70" cy="264.30" r="1.0" fill="#000"/>
<line x1="400.80" y1="276.50" x2="414.00" y2="276.50" stroke="#222" stroke-width="1"/>
<circle cx="407.20" cy="272.40" r="1.0" fill="#000"/>
<text x="295.80" y="355.30" font-size="8.0" text-anchor="middle" fill="#000" stroke="#000" stroke-width="0.18">0.5</text>
<text x="324.90" y="355.30" font-size="8.0" text-anchor="middle" fill="#000" stroke="#000" stroke-width="0.18">2</text>
<text x="354.00" y="355.30" font-size="8.0" text-anchor="middle" fill="#000" stroke="#000" stroke-width="0.18">4</text>
<text x="383.10" y="355.30" font-size="8.0" text-anchor="middle" fill="#000" stroke="#000" stroke-width="0.18">8</text>
<text x="412.20" y="355.30" font-size="8.0" text-anchor="middle" fill="#000" stroke="#000" stroke-width="0.18">20</text>
<text transform="translate(312.10,368.8) scale(0.81,1)" font-size="8.3" stroke="#000" stroke-width="0.2">Wall shear stress (dyne/cm<tspan font-size="5.6" dy="-3.4">2</tspan><tspan dy="3.4">)</tspan></text>
<text x="0.00" y="0.00" font-size="8.6" text-anchor="middle" textLength="78.20" lengthAdjust="spacingAndGlyphs" transform="translate(254.90,296.40) rotate(-90)" fill="#000" stroke="#000" stroke-width="0.2">Cells remaining bound (%)</text>
<text x="300.50" y="246.00" font-size="9.4" fill="#000">P-selectin/CXCL1/ICAM-1</text>
<rect x="0.5" y="0.5" width="519" height="377" fill="none" stroke="#000" stroke-width="1.2"/>
</svg>
</body></html>
